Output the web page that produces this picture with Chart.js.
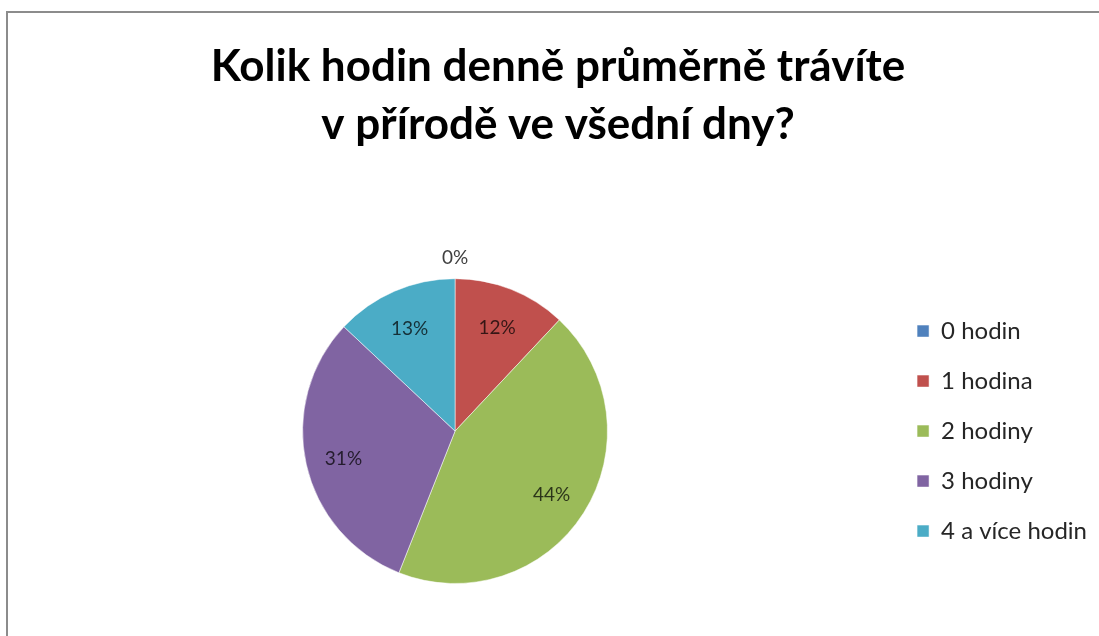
<!DOCTYPE html>
<html>
<head>
<meta charset="utf-8">
<script src="https://cdn.jsdelivr.net/npm/chart.js@4"></script>
<style>
  html, body { margin: 0; padding: 0; background: #fff; }
  #frame {
    position: absolute;
    left: 6px; top: 11px;
    width: 1091px; height: 625px;
    border-top: 2px solid #8c8c8c;
    border-left: 2px solid #8c8c8c;
    border-right: 1px solid #e6e6e6;
  }
  #chart { display: block; }
</style>
</head>
<body>
<div id="frame"><canvas id="chart" width="1091" height="625"></canvas></div>
<script>
const title = ["Kolik hodin denně průměrně trávíte", "v přírodě ve všední dny?"];
const labels = ["0 hodin", "1 hodina", "2 hodiny", "3 hodiny", "4 a více hodin"];
const values = [0, 12, 44, 31, 13];
const colors = ["#4f81bd", "#c0504d", "#9bbb59", "#8064a2", "#4bacc6"];

const FONT = "Lato, 'Open Sans', sans-serif";

// percent labels, inside slices, outside when slice is empty
const pctLabels = {
  id: "pctLabels",
  afterDatasetsDraw(chart) {
    const ctx = chart.ctx;
    const meta = chart.getDatasetMeta(0);
    const total = values.reduce((a, b) => a + b, 0);
    ctx.save();
    ctx.font = "19px " + FONT;
    ctx.textAlign = "center";
    ctx.textBaseline = "middle";
    meta.data.forEach((arc, i) => {
      const p = arc.getProps(["x", "y", "startAngle", "endAngle", "outerRadius"], true);
      const mid = (p.startAngle + p.endAngle) / 2;
      const pct = Math.round(values[i] / total * 100) + "%";
      let r, col;
      if (values[i] === 0) {
        r = p.outerRadius + 24;
        col = "#404040";
      } else {
        r = p.outerRadius * 0.75;
        col = "rgba(0,0,0,0.72)";
      }
      ctx.fillStyle = col;
      ctx.fillText(pct, p.x + Math.cos(mid) * r, p.y + Math.sin(mid) * r + 3);
    });
    ctx.restore();
  }
};

new Chart(document.getElementById("chart"), {
  type: "pie",
  data: {
    labels,
    datasets: [{
      data: values,
      backgroundColor: colors,
      borderColor: "rgba(255,255,255,0.5)",
      borderWidth: 1,
    }],
  },
  options: {
    responsive: false,
    animation: false,
    layout: { padding: { left: 11, right: 2, top: 0, bottom: 54 } },
    plugins: {
      title: {
        display: true,
        text: title,
        color: "#000",
        font: { family: FONT, size: 44, weight: "bold", lineHeight: 1.32 },
        padding: { top: 25, bottom: 124 },
      },
      legend: {
        position: "right",
        fullSize: false,
        labels: {
          boxWidth: 12,
          boxHeight: 12,
          padding: 26,
          color: "#262626",
          font: { family: FONT, size: 24 },
        },
      },
      tooltip: { enabled: false },
    },
  },
  plugins: [pctLabels],
});
</script>
</body>
</html>
